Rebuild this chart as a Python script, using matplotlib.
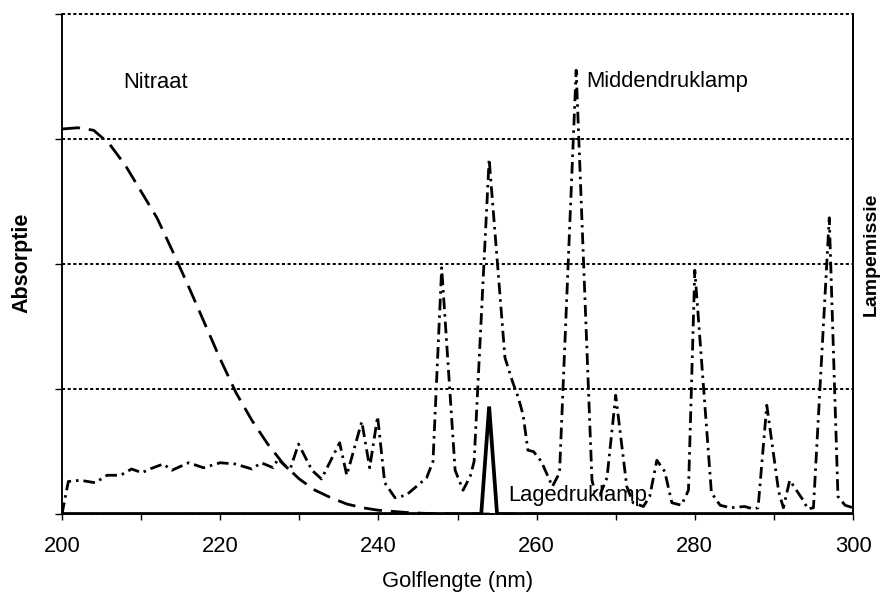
import matplotlib
import matplotlib.pyplot as plt

matplotlib.use('Agg')
plt.rcParams['font.family'] = ['Liberation Sans', 'DejaVu Sans']

nitraat_x = [200, 202, 204, 206, 208, 210, 212, 214, 216, 218, 220, 222, 224,
             226, 228, 230, 232, 234, 236, 238, 240, 242, 244, 246, 250, 260]
nitraat_y = [3.08, 3.09, 3.07, 2.96, 2.79, 2.58, 2.37, 2.10, 1.82, 1.53, 1.24,
             0.97, 0.75, 0.56, 0.40, 0.28, 0.19, 0.13, 0.08, 0.05, 0.03, 0.02,
             0.01, 0.005, 0.0, 0.0]

# Middendruklamp (emissie)
midden_x = [200.0, 200.8, 202.3, 204.2, 205.7, 207.4, 208.8, 210.1, 211.1, 212.8,
            213.9, 216.0, 217.9, 220.0, 221.9, 224.0, 225.2, 226.7, 227.3, 228.8,
            229.9, 231.6, 232.8, 235.1, 236.0, 237.9, 238.9, 239.9, 240.8, 242.1,
            243.5, 246.1, 246.9, 248.0, 249.7, 250.7, 251.6, 252.1, 254.0, 256.0,
            257.0, 257.7, 258.3, 258.9, 259.6, 260.6, 262.0, 262.9, 265.0, 267.0,
            267.4, 268.0, 268.9, 270.0, 271.4, 272.2, 273.5, 274.3, 275.2, 276.2,
            277.1, 278.3, 279.2, 280.0, 282.1, 283.2, 284.5, 286.3, 287.4, 288.0,
            289.1, 290.6, 291.2, 292.0, 293.7, 294.3, 295.0, 297.0, 298.1, 299.0,
            300.0]
midden_y = [0.0, 0.26, 0.27, 0.25, 0.31, 0.31, 0.36, 0.33, 0.36, 0.40,
            0.35, 0.41, 0.37, 0.41, 0.40, 0.36, 0.41, 0.37, 0.44, 0.35,
            0.56, 0.35, 0.28, 0.57, 0.31, 0.74, 0.37, 0.78, 0.25, 0.13,
            0.15, 0.29, 0.42, 1.97, 0.35, 0.19, 0.30, 0.42, 2.84, 1.25,
            1.05, 0.93, 0.79, 0.51, 0.50, 0.42, 0.22, 0.33, 3.55, 0.27,
            0.17, 0.15, 0.29, 0.95, 0.22, 0.09, 0.06, 0.14, 0.43, 0.34,
            0.09, 0.07, 0.19, 1.95, 0.17, 0.07, 0.05, 0.06, 0.04, 0.05,
            0.87, 0.18, 0.05, 0.27, 0.11, 0.04, 0.05, 2.37, 0.14, 0.07,
            0.05]

# Lagedruklamp (emissie)
lage_x = [200, 253, 254, 255, 300]
lage_y = [0, 0, 0.86, 0, 0]

fig = plt.figure(figsize=(8.82, 5.94), dpi=100)
ax = fig.add_axes([62 / 882, 80 / 594, 791 / 882, 500 / 594])
ax2 = ax.twinx()

# raster en assen
ax.set_xlim(200, 300)
ax.set_ylim(0, 4)
ax2.set_ylim(0, 4)
ax.set_yticks([0, 1, 2, 3, 4])
ax.set_yticklabels([])
ax.set_xticks([200, 220, 240, 260, 280, 300])
ax.set_xticks(range(200, 301, 10), minor=True)
ax.tick_params(axis='x', which='both', direction='out', length=4, width=1,
               labelsize=15.8, pad=12)
ax.tick_params(axis='y', direction='out', length=5, width=1)
ax2.set_yticks([])
ax.yaxis.grid(True, color='black', linestyle=(0, (1.6, 1.3)), linewidth=1.4)
for gl in ax.get_ygridlines():
    gl.set_clip_on(False)
ax.set_axisbelow(True)
for a in (ax, ax2):
    a.spines['top'].set_visible(False)
    a.spines['left'].set_linewidth(1.1)
    a.spines['right'].set_linewidth(1.3)
    a.spines['bottom'].set_linewidth(1.1)

ax.plot(nitraat_x, nitraat_y, color='black', linewidth=2.0,
        linestyle=(0, (6.5, 3.2)))
ax2.plot(midden_x, midden_y, color='black', linewidth=2.0,
         linestyle=(0, (4.2, 1.8, 0.9, 1.8)))
ax2.plot(lage_x, lage_y, color='black', linewidth=2.7, solid_joinstyle='miter')

ax2.text(207.8, 3.41, 'Nitraat', fontsize=15.8, va='baseline')
ax2.text(266.3, 3.42, 'Middendruklamp', fontsize=15.8, va='baseline')
ax2.text(256.4, 0.10, 'Lagedruklamp', fontsize=15.8, va='baseline')

ax.set_xlabel('Golflengte (nm)', fontsize=15.8, labelpad=10)
fig.text(22 / 882, 1 - 263 / 594, 'Absorptie', rotation=90, fontsize=15.5,
         fontweight='bold', ha='center', va='center')
fig.text(871 / 882, 1 - 254 / 594, 'Lampemissie', rotation=90, fontsize=14,
         fontweight='bold', ha='center', va='center')

plt.savefig('out.png', dpi=100)
